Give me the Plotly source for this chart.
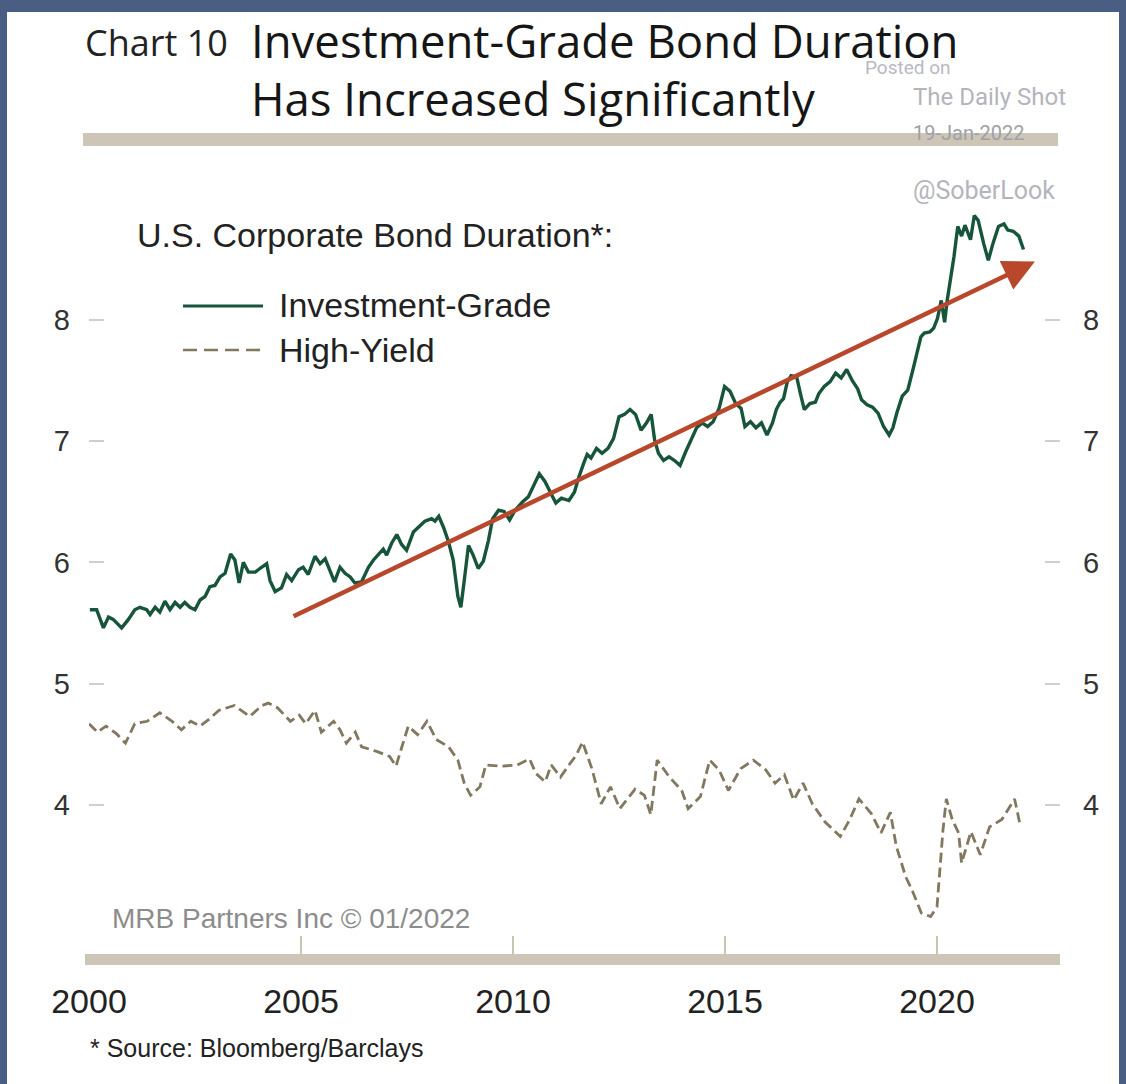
import plotly.graph_objects as go

# ---- series (decimal year, duration in years) ----
ig_year = [
    2000.02, 2000.18, 2000.34, 2000.46, 2000.57, 2000.77, 2000.93, 2001.08, 2001.20, 2001.36,
    2001.44, 2001.56, 2001.67, 2001.79, 2001.91, 2002.03, 2002.15, 2002.26, 2002.38, 2002.50,
    2002.62, 2002.74, 2002.85, 2002.97, 2003.09, 2003.21, 2003.34, 2003.44, 2003.54, 2003.64,
    2003.76, 2003.92, 2004.07, 2004.19, 2004.27, 2004.39, 2004.54, 2004.66, 2004.78, 2004.94,
    2005.05, 2005.17, 2005.33, 2005.45, 2005.57, 2005.68, 2005.79, 2005.92, 2006.04, 2006.16,
    2006.27, 2006.43, 2006.59, 2006.71, 2006.82, 2006.94, 2007.02, 2007.14, 2007.26, 2007.37,
    2007.49, 2007.65, 2007.77, 2007.92, 2008.08, 2008.16, 2008.25, 2008.36, 2008.47, 2008.59,
    2008.70, 2008.77, 2008.85, 2008.95, 2009.06, 2009.18, 2009.30, 2009.42, 2009.52, 2009.66,
    2009.79, 2009.92, 2010.05, 2010.23, 2010.36, 2010.49, 2010.62, 2010.75, 2010.88, 2011.01,
    2011.14, 2011.32, 2011.45, 2011.54, 2011.67, 2011.75, 2011.84, 2011.97, 2012.10, 2012.24,
    2012.37, 2012.50, 2012.63, 2012.76, 2012.89, 2013.02, 2013.15, 2013.26, 2013.34, 2013.43,
    2013.55, 2013.68, 2013.81, 2013.94, 2014.07, 2014.20, 2014.33, 2014.46, 2014.59, 2014.72,
    2014.86, 2014.99, 2015.12, 2015.25, 2015.38, 2015.47, 2015.60, 2015.73, 2015.86, 2015.99,
    2016.12, 2016.21, 2016.30, 2016.38, 2016.47, 2016.56, 2016.69, 2016.78, 2016.87, 2017.00,
    2017.13, 2017.21, 2017.34, 2017.48, 2017.61, 2017.74, 2017.87, 2018.00, 2018.13, 2018.22,
    2018.35, 2018.48, 2018.61, 2018.74, 2018.87, 2018.96, 2019.05, 2019.18, 2019.31, 2019.44,
    2019.53, 2019.62, 2019.70, 2019.83, 2019.92, 2020.01, 2020.10, 2020.18, 2020.24, 2020.32,
    2020.40, 2020.49, 2020.58, 2020.66, 2020.79, 2020.88, 2020.97, 2021.10, 2021.21, 2021.32,
    2021.45, 2021.58, 2021.67, 2021.80, 2021.93, 2022.04,
]
ig_value = [
    5.61, 5.61, 5.46, 5.55, 5.53, 5.46, 5.53, 5.61, 5.63, 5.61,
    5.57, 5.63, 5.59, 5.68, 5.61, 5.67, 5.63, 5.67, 5.63, 5.61,
    5.69, 5.72, 5.80, 5.81, 5.88, 5.91, 6.07, 6.02, 5.83, 6.00,
    5.92, 5.92, 5.96, 5.99, 5.85, 5.76, 5.79, 5.90, 5.85, 5.94,
    5.96, 5.90, 6.05, 5.99, 6.03, 5.94, 5.84, 5.96, 5.91, 5.88,
    5.83, 5.84, 5.96, 6.02, 6.06, 6.11, 6.06, 6.16, 6.23, 6.15,
    6.10, 6.25, 6.29, 6.34, 6.36, 6.34, 6.38, 6.29, 6.18, 6.02,
    5.72, 5.63, 5.85, 6.14, 6.06, 5.95, 6.01, 6.18, 6.36, 6.43,
    6.42, 6.35, 6.43, 6.50, 6.54, 6.64, 6.73, 6.67, 6.58, 6.49,
    6.53, 6.51, 6.58, 6.69, 6.82, 6.89, 6.86, 6.94, 6.90, 6.94,
    7.02, 7.20, 7.22, 7.26, 7.22, 7.09, 7.15, 7.22, 7.01, 6.90,
    6.84, 6.87, 6.84, 6.80, 6.91, 7.01, 7.11, 7.15, 7.12, 7.16,
    7.27, 7.45, 7.41, 7.31, 7.27, 7.12, 7.16, 7.11, 7.15, 7.05,
    7.15, 7.26, 7.32, 7.35, 7.49, 7.54, 7.53, 7.39, 7.26, 7.31,
    7.32, 7.39, 7.45, 7.49, 7.56, 7.52, 7.59, 7.50, 7.43, 7.34,
    7.30, 7.28, 7.23, 7.12, 7.05, 7.11, 7.23, 7.37, 7.42, 7.60,
    7.72, 7.86, 7.89, 7.90, 7.93, 8.01, 8.16, 7.98, 8.16, 8.33,
    8.52, 8.77, 8.69, 8.78, 8.66, 8.86, 8.82, 8.63, 8.49, 8.63,
    8.77, 8.79, 8.74, 8.73, 8.69, 8.58,
]

hy_year = [
    2000.00, 2000.20, 2000.40, 2000.64, 2000.86, 2001.08, 2001.37, 2001.67, 2001.96, 2002.18,
    2002.40, 2002.62, 2002.84, 2003.06, 2003.43, 2003.79, 2004.08, 2004.23, 2004.45, 2004.75,
    2004.96, 2005.11, 2005.33, 2005.48, 2005.77, 2005.92, 2006.07, 2006.28, 2006.43, 2006.80,
    2007.09, 2007.24, 2007.38, 2007.53, 2007.75, 2007.97, 2008.19, 2008.48, 2008.70, 2008.85,
    2009.00, 2009.22, 2009.36, 2009.73, 2010.10, 2010.39, 2010.54, 2010.76, 2010.90, 2011.12,
    2011.34, 2011.49, 2011.64, 2011.86, 2012.08, 2012.30, 2012.52, 2012.88, 2013.10, 2013.25,
    2013.40, 2013.69, 2013.98, 2014.13, 2014.42, 2014.57, 2014.64, 2014.86, 2015.08, 2015.37,
    2015.67, 2015.96, 2016.18, 2016.40, 2016.62, 2016.84, 2017.06, 2017.36, 2017.72, 2017.94,
    2018.16, 2018.45, 2018.68, 2018.90, 2019.04, 2019.26, 2019.41, 2019.63, 2019.85, 2020.00,
    2020.14, 2020.22, 2020.36, 2020.51, 2020.58, 2020.80, 2021.02, 2021.24, 2021.53, 2021.83,
    2021.97,
]
hy_value = [
    4.67, 4.60, 4.65, 4.59, 4.51, 4.67, 4.69, 4.76, 4.69, 4.62,
    4.69, 4.65, 4.71, 4.78, 4.82, 4.73, 4.82, 4.84, 4.80, 4.69,
    4.74, 4.67, 4.78, 4.60, 4.69, 4.62, 4.51, 4.60, 4.48, 4.44,
    4.40, 4.32, 4.48, 4.65, 4.58, 4.69, 4.54, 4.48, 4.37, 4.18,
    4.08, 4.15, 4.33, 4.32, 4.33, 4.38, 4.26, 4.19, 4.33, 4.23,
    4.34, 4.41, 4.52, 4.30, 4.01, 4.15, 3.97, 4.13, 4.08, 3.92,
    4.37, 4.23, 4.12, 3.97, 4.07, 4.29, 4.37, 4.29, 4.12, 4.30,
    4.37, 4.29, 4.18, 4.25, 4.04, 4.18, 4.01, 3.86, 3.74, 3.88,
    4.05, 3.93, 3.77, 3.94, 3.66, 3.41, 3.30, 3.11, 3.08, 3.16,
    3.79, 4.05, 3.88, 3.77, 3.52, 3.78, 3.59, 3.82, 3.88, 4.05,
    3.82,
]

# trend arrow: (year, duration) at tail and head
trend_start = (2004.79, 5.55)
trend_end = (2022.31, 8.48)

y_ticks = [4, 5, 6, 7, 8]
x_ticks = [2000, 2005, 2010, 2015, 2020]
x_tick_text = ["2000", "2005", "2010", "2015", "2020"]

# ---- page geometry ----
W, H = 1126, 1084
ML, MR, MT, MB = 89, 66, 200, 130
PW = W - ML - MR
PH = H - MT - MB
X_RANGE = [2000.0, 2000.0 + PW / 42.4]
Y_RANGE = [4 + (805 - (H - MB)) / 121.3, 4 + (805 - MT) / 121.3]


def px(x):
    return (x - ML) / PW


def py(y):
    return (H - MB - y) / PH


IG_COLOR = "#17553a"
HY_COLOR = "#82775f"
ARROW_COLOR = "#b8472b"
RULE_COLOR = "#cdc5b5"
FRAME_COLOR = "#4a5d83"
SANS = "Liberation Sans, Arial, sans-serif"
TITLE_FONT = "Open Sans, Noto Sans, sans-serif"
MARK_FONT = "Roboto, sans-serif"

fig = go.Figure()

fig.add_trace(go.Scatter(
    x=ig_year, y=ig_value, mode="lines", name="Investment-Grade",
    line=dict(color=IG_COLOR, width=3.4), showlegend=False, hoverinfo="skip",
))
fig.add_trace(go.Scatter(
    x=hy_year, y=hy_value, mode="lines", name="High-Yield", yaxis="y2",
    line=dict(color=HY_COLOR, width=2.8, dash="10px,5px"), showlegend=False, hoverinfo="skip",
))

shapes = [
    # white card inside the slate frame
    dict(type="rect", xref="paper", yref="paper", layer="below",
         x0=px(7), x1=px(1119), y0=py(1084), y1=py(12),
         fillcolor="white", line=dict(width=0)),
    # rule under the title
    dict(type="rect", xref="paper", yref="paper", layer="below",
         x0=px(83), x1=px(1058), y0=py(146), y1=py(133),
         fillcolor=RULE_COLOR, line=dict(width=0)),
    # base bar under the plot
    dict(type="rect", xref="paper", yref="paper", layer="below",
         x0=px(85), x1=px(1060), y0=py(965), y1=py(954),
         fillcolor=RULE_COLOR, line=dict(width=0)),
    # legend keys
    dict(type="line", xref="paper", yref="paper",
         x0=px(183), x1=px(263), y0=py(306), y1=py(306),
         line=dict(color=IG_COLOR, width=3.2)),
    dict(type="line", xref="paper", yref="paper",
         x0=px(183), x1=px(263), y0=py(350), y1=py(350),
         line=dict(color=HY_COLOR, width=2.6, dash="14px,7px")),
]


def label(text, x, y, size, color="#222", font=SANS, xanchor="left"):
    return dict(text=text, x=px(x), y=py(y), xref="paper", yref="paper",
                xanchor=xanchor, yanchor="middle", showarrow=False,
                font=dict(family=font, size=size, color=color))


annotations = [
    label("Chart 10", 83, 43, 36, "#222222", TITLE_FONT),
    label("Investment-Grade Bond Duration", 249, 40, 45.5, "#161616", TITLE_FONT),
    label("Has Increased Significantly", 249, 98, 45.5, "#161616", TITLE_FONT),
    label("Posted on", 908, 68, 19, "#b9b9c1", MARK_FONT, xanchor="center"),
    label("The Daily Shot", 911, 97, 24, "#b4b4bc", MARK_FONT),
    label("19-Jan-2022", 911, 133, 20, "#a0a0a8", MARK_FONT),
    label("@SoberLook", 911, 191, 25, "#b4b4bc", MARK_FONT),
    label("U.S. Corporate Bond Duration*:", 135, 235, 34, "#222"),
    label("Investment-Grade", 277, 305, 34, "#222"),
    label("High-Yield", 277, 350, 34, "#222"),
    label("MRB Partners Inc © 01/2022", 110, 918, 28, "#8c8c8c"),
    label("* Source: Bloomberg/Barclays", 88, 1048, 25, "#222"),
    # long-run trend arrow
    dict(x=trend_end[0], y=trend_end[1], ax=trend_start[0], ay=trend_start[1],
         xref="x", yref="y", axref="x", ayref="y", text="", showarrow=True,
         arrowhead=2, arrowsize=1.4, arrowwidth=4.5, arrowcolor=ARROW_COLOR,
         standoff=0, startstandoff=0),
]

axis_y_common = dict(
    range=Y_RANGE, tickvals=y_ticks, ticktext=[str(v) for v in y_ticks],
    ticks="inside", ticklen=15, tickwidth=2, tickcolor="#cfcfcf",
    showgrid=False, zeroline=False, showline=False, fixedrange=True,
    tickfont=dict(family=SANS, size=29, color="#333"),
)

fig.update_layout(
    width=W, height=H,
    margin=dict(l=ML, r=MR, t=MT, b=MB, pad=0),
    paper_bgcolor=FRAME_COLOR,
    plot_bgcolor="rgba(0,0,0,0)",
    showlegend=False,
    xaxis=dict(
        range=X_RANGE, tickvals=x_ticks, ticktext=x_tick_text,
        ticks="inside", ticklen=18, tickwidth=2, tickcolor="#cbc3b3",
        showgrid=False, zeroline=False, showline=False, fixedrange=True,
        tickfont=dict(family=SANS, size=34, color="#222"),
        ticklabelstandoff=24,
    ),
    yaxis=dict(side="left", ticklabelstandoff=18, **axis_y_common),
    yaxis2=dict(side="right", overlaying="y", ticklabelstandoff=22, **axis_y_common),
    shapes=shapes,
    annotations=annotations,
)

fig.write_html("out.html")
